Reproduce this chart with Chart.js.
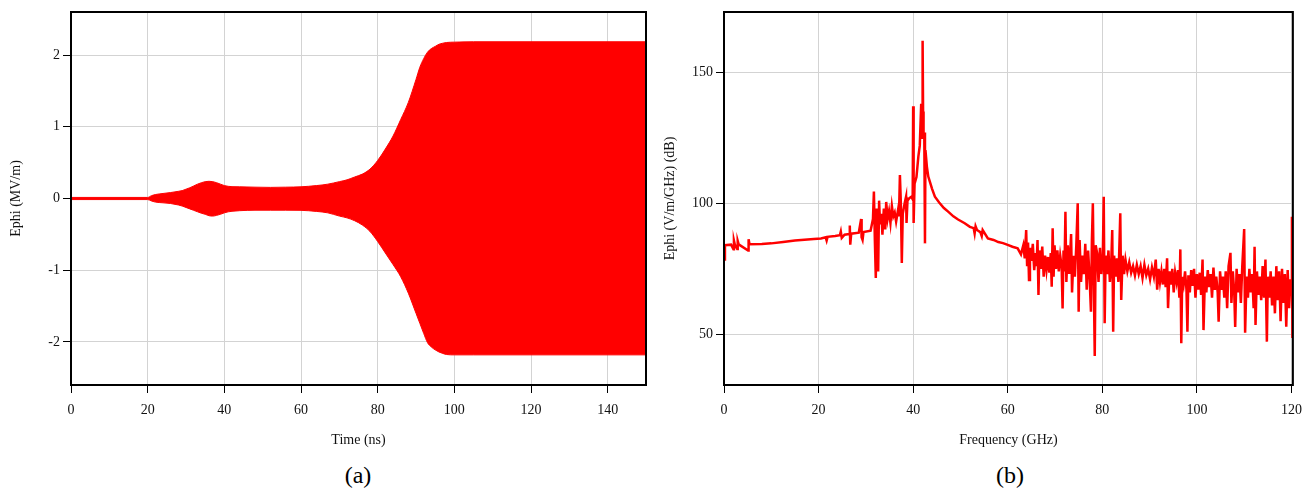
<!DOCTYPE html>
<html>
<head>
<meta charset="utf-8">
<script src="https://cdn.jsdelivr.net/npm/chart.js@4"></script>
<style>
  html, body { margin: 0; padding: 0; background: #fff; }
  body { width: 1311px; height: 494px; position: relative; overflow: hidden; }
  .panel { position: absolute; top: 0; height: 460px; }
  #panelA { left: 0; width: 656px; }
  #panelB { left: 656px; width: 655px; }
  .caption {
    position: absolute; top: 462px; width: 80px; text-align: center;
    font-family: "Liberation Serif", "Times New Roman", serif; font-size: 24px; color: #000;
  }
</style>
</head>
<body>
<div class="panel" id="panelA"><canvas id="timeChart"></canvas></div>
<div class="panel" id="panelB"><canvas id="specChart"></canvas></div>
<div class="caption" style="left:318px">(a)</div>
<div class="caption" style="left:970px">(b)</div>
<script>
// ─── Data (a): envelope of Ephi vs time ──────────────────────────────────────
const TIME_NS = [0, 20, 21, 22, 24, 26, 28, 29, 30, 31, 32, 33, 34, 35, 36, 37, 38, 39, 40, 41,
  42, 44, 48, 52, 56, 60, 64, 67, 70, 72, 74, 76, 78, 80, 82, 84, 86, 88, 90, 91,
  92, 93, 94, 95, 96, 97, 98, 100, 105, 150];
const EPHI_UPPER = [0.015, 0.015, 0.04, 0.055, 0.07, 0.083, 0.1, 0.11, 0.13, 0.15, 0.175, 0.2, 0.22, 0.235, 0.24, 0.235, 0.22, 0.2, 0.18, 0.17,
  0.165, 0.163, 0.158, 0.155, 0.158, 0.163, 0.18, 0.2, 0.235, 0.26, 0.3, 0.34, 0.41, 0.53, 0.69, 0.87, 1.1, 1.34, 1.66, 1.83,
  1.95, 2.04, 2.09, 2.12, 2.15, 2.165, 2.175, 2.18, 2.185, 2.185];
const EPHI_LOWER = [-0.015, -0.015, -0.035, -0.05, -0.06, -0.07, -0.09, -0.105, -0.125, -0.145, -0.165, -0.185, -0.205, -0.22, -0.24, -0.245, -0.235, -0.22, -0.2, -0.186,
  -0.178, -0.17, -0.163, -0.163, -0.163, -0.165, -0.18, -0.2, -0.245, -0.27, -0.31, -0.37, -0.46, -0.6, -0.76, -0.92, -1.09, -1.32, -1.6, -1.74,
  -1.88, -2.01, -2.07, -2.11, -2.14, -2.16, -2.175, -2.18, -2.18, -2.18];
const TIME_TICKS = [0, 20, 40, 60, 80, 100, 120, 140];
const EPHI_TICKS = [-2, -1, 0, 1, 2];

// ─── Data (b): spectrum, dB vs GHz ───────────────────────────────────────────
const FREQ_GHZ = [
  0, 0.2, 1.5, 2.0, 2.1, 2.3, 2.8, 2.9, 3.1, 5.1, 5.2, 5.4, 8, 10, 12.5, 15, 17, 19, 20.5, 21.5,
  21.7, 21.9, 23.5, 24.5, 24.7, 24.9, 25.5, 26.5, 26.6, 26.7, 26.9, 28.5, 29.0, 29.1, 29.3, 29.5, 31, 31.5, 31.7, 31.9,
  32.1, 32.3, 32.5, 32.6, 32.8, 33.0, 33.3, 33.5, 33.8, 34.1, 34.3, 34.6, 34.9, 35.2, 35.5, 35.8, 36.1, 36.4, 36.8, 37.0,
  37.2, 37.4, 37.6, 37.8, 38.2, 38.5, 38.6, 38.8, 39.2, 39.6, 39.9, 40.0, 40.1, 40.3, 40.7, 41.1, 41.4, 41.7, 41.9, 42.0,
  42.1, 42.2, 42.35, 42.5, 42.6, 42.9, 43.2, 44.0, 44.6, 45.5, 46.5, 47.4, 48.5, 49.5, 50.9, 52.0, 52.8, 53.0, 53.2, 53.5,
  54.2, 54.5, 54.7, 55.8, 57, 58, 59, 60, 61.0, 62.1,
  62.8, 63.3, 63.6, 63.9, 64.1, 64.3, 64.5, 64.7, 65.0, 65.3, 65.6, 65.9, 66.1, 66.3, 66.5, 66.7, 67.0, 67.3, 67.6, 67.9,
  68.2, 68.5, 68.8, 69.1, 69.3, 69.5, 69.7, 69.9, 70.2, 70.5, 70.8, 71.1, 71.4, 71.6, 71.8, 72.0, 72.2, 72.4, 72.7, 73.0,
  73.4, 73.6, 73.9, 74.2, 74.5, 74.8, 75.0, 75.2, 75.5, 75.8, 76.1, 76.4, 76.7, 77.0, 77.3, 77.6, 77.8, 78.0, 78.2, 78.4,
  78.6, 78.9, 79.2, 79.5, 79.8, 80.1, 80.3, 80.5, 80.7, 81.0, 81.3, 81.6, 81.9, 82.1, 82.3, 82.5, 82.8, 83.1, 83.4, 83.8,
  84.0, 84.3, 84.6, 84.9, 85.3, 85.7, 86.1, 86.5, 86.9, 87.3, 87.7, 88.1, 88.5, 88.9, 89.3, 89.7, 90.1, 90.5, 90.9, 91.3,
  91.6, 91.9, 92.2, 92.5, 92.8, 93.1, 93.4, 93.7, 93.9, 94.2, 94.5, 94.8, 95.1, 95.4, 95.7, 96.0, 96.3, 96.5, 96.7, 96.9,
  97.2, 97.5, 97.8, 98.0, 98.2, 98.5, 98.8, 99.1, 99.4, 99.7, 100.0, 100.3, 100.6, 100.9, 101.2, 101.4, 101.7, 102.0, 102.3, 102.6,
  102.9, 103.2, 103.5, 103.8, 104.1, 104.4, 104.6, 104.9, 105.2, 105.5, 105.8, 106.1, 106.4, 106.7, 107.1, 107.3, 107.6, 107.9, 108.1, 108.4,
  108.7, 109.0, 109.3, 109.6, 110.0, 110.2, 110.5, 110.8, 111.1, 111.4, 111.7, 112.0, 112.2, 112.4, 112.7, 113.0, 113.3, 113.6, 113.9, 114.2,
  114.5, 114.8, 115.0, 115.3, 115.6, 115.9, 116.2, 116.5, 116.8, 117.1, 117.4, 117.7, 118.0, 118.3, 118.6, 118.9, 119.2, 119.5, 119.8, 120.0,
  120.1, 120.2, 120.25, 120.3];
const EPHI_DB = [
  78.5, 84.0, 84.2, 82.5, 85.8, 84.2, 82.6, 85.6, 84.3, 82.0, 86.3, 84.4, 84.5, 84.7, 85.2, 85.8, 86.1, 86.4, 86.6, 87.0,
  85.8, 87.2, 87.5, 87.8, 89.2, 86.8, 88.0, 88.3, 91.5, 84.2, 88.4, 88.8, 94.0, 87.0, 86.0, 89.0, 89.5, 94.0, 104.5, 86.0,
  71.5, 98.0, 88.0, 74.0, 101.0, 92.0, 96.0, 88.0, 98.0, 90.0, 100.5, 94.0, 97.0, 92.5, 99.0, 95.0, 96.5, 93.0, 97.4, 95.0,
  110.8, 100.0, 77.2, 96.0, 100.0, 102.5, 92.5, 101.0, 102.0, 102.5, 101.5, 137.0, 92.5, 107.5, 110.0, 117.8, 122.0, 138.0, 125.0, 162.0,
  135.0, 125.4, 127.0, 84.7, 120.3, 114.0, 110.2, 105.5, 102.5, 100.3, 98.2, 96.8, 95.0, 93.8, 92.4, 91.0, 90.5, 88.5, 91.2, 89.8,
  89.0, 87.5, 89.8, 86.6, 86.0, 85.2, 84.8, 84.1, 83.4, 82.8,
  80.5, 84.0, 79.0, 89.8, 76.0, 85.0, 70.7, 83.0, 78.0, 84.5, 74.5, 81.0, 76.0, 86.0, 65.0, 82.0, 75.0, 83.5, 72.0, 80.0,
  74.5, 79.5, 73.5, 81.0, 68.2, 90.5, 72.0, 84.0, 75.0, 82.0, 74.0, 80.0, 76.0, 59.9, 82.0, 74.0, 96.8, 70.0, 84.0, 73.0,
  88.3, 66.0, 80.0, 72.0, 84.0, 100.0, 58.6, 86.0, 70.0, 80.0, 73.0, 84.5, 67.0, 82.0, 72.0, 58.6, 86.0, 100.0, 70.0, 41.7,
  84.0, 81.0, 70.0, 83.0, 73.0, 79.0, 102.5, 54.2, 80.0, 73.0, 82.0, 70.0, 78.0, 89.8, 51.0, 80.0, 72.0, 79.0, 70.0, 96.2,
  63.1, 80.0, 73.0, 78.5, 74.0, 77.5, 73.5, 76.0, 72.5, 76.5, 73.0, 76.0, 71.5, 76.5, 72.5, 75.0, 71.0, 75.5, 72.0, 78.5,
  67.0, 75.0, 70.0, 74.0, 69.0, 75.0, 68.0, 79.0, 60.0, 74.0, 69.0, 75.0, 66.0, 73.5, 70.0, 74.5, 64.0, 82.4, 46.6, 72.0,
  69.0, 74.0, 67.0, 51.0, 72.5, 66.0, 74.5, 68.5, 75.0, 64.0, 73.0, 67.0, 73.5, 65.0, 78.5, 51.6, 72.0, 66.0, 74.5, 68.0,
  73.0, 64.0, 75.5, 67.0, 72.0, 66.0, 54.8, 74.0, 67.0, 72.0, 64.0, 74.0, 60.0, 76.0, 81.1, 62.0, 74.0, 66.0, 52.8, 75.0,
  66.0, 73.0, 62.0, 76.0, 90.2, 50.6, 72.0, 64.0, 75.0, 66.0, 73.0, 60.0, 83.4, 53.6, 74.0, 65.0, 72.0, 63.0, 76.0, 64.0,
  78.5, 47.2, 72.0, 64.0, 74.0, 61.0, 72.0, 58.0, 76.0, 63.0, 74.0, 55.0, 75.0, 62.0, 73.0, 52.9, 74.5, 60.0, 71.0, 68.0,
  94.9, 49.1, 72.0, 70.0];
const FREQ_TICKS = [0, 20, 40, 60, 80, 100, 120];
const DB_TICKS = [50, 100, 150];

const Plots = (() => {

  const COLORS = {
    red:   '#ff0000',
    grid:  '#d3d3d3',
    axis:  '#000000',
    text:  '#111111',
  };

  const FONT = { family: '"Liberation Serif", "Times New Roman", serif', size: 14 };

  // draws the top and right edges of the plot box
  const frameBox = {
    id: 'frameBox',
    afterDraw(chart) {
      const { ctx, chartArea: a } = chart;
      ctx.save();
      ctx.strokeStyle = COLORS.axis;
      ctx.lineWidth = 2;
      ctx.strokeRect(a.left, a.top, a.right - a.left, a.bottom - a.top);
      ctx.restore();
    },
  };

  function toPoints(xs, ys) {
    return xs.map((x, i) => ({ x, y: ys[i] }));
  }

  function axis(opts) {
    return {
      type: 'linear',
      min: opts.min,
      max: opts.max,
      afterBuildTicks: s => { s.ticks = opts.ticks.map(v => ({ value: v })); },
      afterFit: s => { if (opts.width) s.width = opts.width; if (opts.height) s.height = opts.height; },
      grid: { color: COLORS.grid, lineWidth: 1, tickColor: COLORS.axis, tickLength: 8, drawTicks: true },
      border: { color: COLORS.axis, width: 2 },
      ticks: { color: COLORS.text, font: FONT, padding: opts.tickPad, maxRotation: 0, autoSkip: false },
      title: { display: true, text: opts.title, color: COLORS.text, font: FONT, padding: opts.titlePad },
    };
  }

  function baseOptions(x, y, padRight) {
    return {
      responsive: true,
      maintainAspectRatio: false,
      animation: false,
      layout: { padding: { top: 12, right: padRight, left: 0, bottom: 0 } },
      plugins: { legend: { display: false }, tooltip: { enabled: false } },
      scales: { x, y },
    };
  }

  // ─── (a) Time domain envelope ──────────────────────────────────────────────

  function renderTime(canvasId) {
    const ctx = document.getElementById(canvasId);
    new Chart(ctx, {
      type: 'line',
      data: {
        datasets: [
          {
            data: toPoints(TIME_NS, EPHI_UPPER),
            borderColor: COLORS.red, borderWidth: 1, pointRadius: 0, fill: false, cubicInterpolationMode: 'monotone',
          },
          {
            data: toPoints(TIME_NS, EPHI_LOWER),
            borderColor: COLORS.red, borderWidth: 1, pointRadius: 0, cubicInterpolationMode: 'monotone',
            backgroundColor: COLORS.red, fill: '-1',
          },
        ],
      },
      options: baseOptions(
        axis({ min: 0, max: 150, ticks: TIME_TICKS, title: 'Time (ns)', height: 75, tickPad: 9,
               titlePad: { top: 0, bottom: 11 } }),
        axis({ min: -2.6, max: 2.6, ticks: EPHI_TICKS, title: 'Ephi (MV/m)', width: 71, tickPad: 3,
               titlePad: { top: 8, bottom: 0 } }),
        10),
      plugins: [frameBox],
    });
  }

  // ─── (b) Spectrum ──────────────────────────────────────────────────────────

  function renderSpectrum(canvasId) {
    const ctx = document.getElementById(canvasId);
    new Chart(ctx, {
      type: 'line',
      data: {
        datasets: [{
          data: toPoints(FREQ_GHZ, EPHI_DB),
          borderColor: COLORS.red, borderWidth: 2.5, pointRadius: 0, fill: false, tension: 0,
        }],
      },
      options: baseOptions(
        axis({ min: 0, max: 120.3, ticks: FREQ_TICKS, title: 'Frequency (GHz)', height: 75, tickPad: 9,
               titlePad: { top: 0, bottom: 11 } }),
        axis({ min: 30.65, max: 173, ticks: DB_TICKS, title: 'Ephi (V/m/GHz) (dB)', width: 68, tickPad: 3,
               titlePad: { top: 6, bottom: 0 } }),
        15),
      plugins: [frameBox],
    });
  }

  return { renderTime, renderSpectrum };
})();

Plots.renderTime('timeChart');
Plots.renderSpectrum('specChart');
</script>
</body>
</html>
